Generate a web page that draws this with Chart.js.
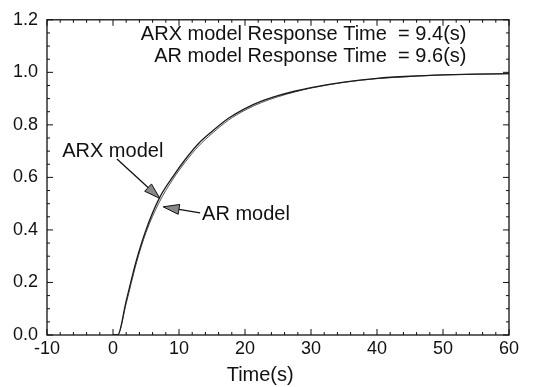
<!DOCTYPE html>
<html>
<head>
<meta charset="utf-8">
<script src="https://cdn.jsdelivr.net/npm/chart.js@4.4.0/dist/chart.umd.min.js"></script>
<style>
  html, body { margin: 0; padding: 0; background: #fff; }
  #wrap { width: 533px; height: 387px; }
</style>
</head>
<body>
<div id="wrap"><canvas id="stepChart" width="533" height="387"></canvas></div>
<script>
// step response
const timeS   = [0, 0.7, 2, 3.5, 5, 7, 9, 11, 13, 15, 17.5, 20, 22.5, 25, 27.5, 30, 35, 40, 45, 50, 55, 60];
const arxResp = [0, 0, 0.13, 0.28, 0.40, 0.52, 0.60, 0.67, 0.73, 0.775, 0.825, 0.862, 0.89, 0.911, 0.928, 0.942, 0.963, 0.977, 0.985, 0.99, 0.993, 0.995];
const arResp  = [0, 0, 0.12, 0.27, 0.39, 0.505, 0.59, 0.66, 0.72, 0.767, 0.818, 0.856, 0.885, 0.907, 0.925, 0.94, 0.962, 0.976, 0.984, 0.99, 0.993, 0.995];

const xTicks = [-10, 0, 10, 20, 30, 40, 50, 60];
const yTicks = [0, 0.2, 0.4, 0.6, 0.8, 1.0, 1.2];

// header text
const headLabels = ['ARX model Response Time', 'AR model Response Time'];
const headValues = ['= 9.4(s)', '= 9.6(s)'];
const headY = [1.143, 1.062];

// arrow labels (data units)
const noteText = ['ARX model', 'AR model'];
const noteX = [-7.7, 13.5];
const noteY = [0.70, 0.46];
const arrowFromX = [0.6, 13.2];
const arrowFromY = [0.67, 0.465];
const arrowToX = [7.1, 7.6];
const arrowToY = [0.52, 0.488];

const FONT = '"Liberation Sans", Arial, Helvetica, sans-serif';

function pts(xs, ys) {
    return xs.map(function(x, i) { return {x: x, y: ys[i]}; });
}

const frame = {
    id: 'frame',
    afterDatasetsDraw: function(chart) {
        const ctx = chart.ctx;
        const a = chart.chartArea;
        const sx = chart.scales.x, sy = chart.scales.y;
        ctx.save();
        ctx.strokeStyle = '#111';
        ctx.lineWidth = 1.3;
        ctx.strokeRect(a.left, a.top, a.right - a.left, a.bottom - a.top);

        // inward ticks on all four sides
        ctx.lineWidth = 1;
        ctx.beginPath();
        for (let v = -10; v <= 60.001; v += 2) {
            const px = sx.getPixelForValue(v);
            const len = Math.abs(v % 10) < 0.001 ? 6 : 3;
            ctx.moveTo(px, a.bottom); ctx.lineTo(px, a.bottom - len);
            ctx.moveTo(px, a.top); ctx.lineTo(px, a.top + len);
        }
        for (let k = 0; k <= 24; k++) {
            const py = sy.getPixelForValue(k * 0.05);
            const len = k % 4 === 0 ? 6 : 3;
            ctx.moveTo(a.left, py); ctx.lineTo(a.left + len, py);
            ctx.moveTo(a.right, py); ctx.lineTo(a.right - len, py);
        }
        ctx.stroke();

        ctx.fillStyle = '#111';
        ctx.font = '20px ' + FONT;
        ctx.textBaseline = 'middle';

        // header lines
        for (let i = 0; i < headLabels.length; i++) {
            const py = sy.getPixelForValue(headY[i]);
            ctx.textAlign = 'right';
            ctx.fillText(headLabels[i], sx.getPixelForValue(41.5), py);
            ctx.textAlign = 'left';
            ctx.fillText(headValues[i], sx.getPixelForValue(43.2), py);
        }

        // notes with arrows
        for (let i = 0; i < noteText.length; i++) {
            ctx.textAlign = 'left';
            ctx.fillText(noteText[i], sx.getPixelForValue(noteX[i]), sy.getPixelForValue(noteY[i]));
            const x0 = sx.getPixelForValue(arrowFromX[i]), y0 = sy.getPixelForValue(arrowFromY[i]);
            const x1 = sx.getPixelForValue(arrowToX[i]), y1 = sy.getPixelForValue(arrowToY[i]);
            const ang = Math.atan2(y1 - y0, x1 - x0);
            const hl = 16, hw = 5;
            const bx = x1 - hl * Math.cos(ang), by = y1 - hl * Math.sin(ang);
            ctx.beginPath();
            ctx.moveTo(x0, y0); ctx.lineTo(bx, by);
            ctx.lineWidth = 1.3;
            ctx.stroke();
            ctx.beginPath();
            ctx.moveTo(x1, y1);
            ctx.lineTo(bx + hw * Math.sin(ang), by - hw * Math.cos(ang));
            ctx.lineTo(bx - hw * Math.sin(ang), by + hw * Math.cos(ang));
            ctx.closePath();
            ctx.fillStyle = '#888';
            ctx.fill();
            ctx.lineWidth = 1;
            ctx.stroke();
            ctx.fillStyle = '#111';
        }

        // axis title
        ctx.textAlign = 'center';
        ctx.fillText('Time(s)', sx.getPixelForValue(22.3), a.bottom + 40);
        ctx.restore();
    }
};

new Chart(document.getElementById('stepChart').getContext('2d'), {
    type: 'line',
    data: {
        datasets: [{
            label: 'ARX model',
            data: pts(timeS, arxResp),
            borderColor: '#1a1a1a',
            borderWidth: 1.3,
            pointRadius: 0,
            fill: false,
            cubicInterpolationMode: 'monotone'
        }, {
            label: 'AR model',
            data: pts(timeS, arResp),
            borderColor: '#555',
            borderWidth: 1,
            pointRadius: 0,
            fill: false,
            cubicInterpolationMode: 'monotone'
        }]
    },
    options: {
        responsive: false,
        animation: false,
        layout: { padding: { top: 17, right: 24, left: 0, bottom: 0 } },
        plugins: { legend: { display: false }, tooltip: { enabled: false } },
        scales: {
            x: {
                type: 'linear',
                min: -10,
                max: 60,
                afterBuildTicks: function(s) { s.ticks = xTicks.map(function(v) { return {value: v}; }); },
                afterFit: function(s) { s.height = 52; },
                grid: { display: false, drawTicks: false },
                border: { display: false },
                ticks: { color: '#111', padding: 3, maxRotation: 0, font: { family: FONT, size: 18 } }
            },
            y: {
                min: 0,
                max: 1.2,
                afterBuildTicks: function(s) { s.ticks = yTicks.map(function(v) { return {value: v}; }); },
                afterFit: function(s) { s.width = 47; },
                grid: { display: false, drawTicks: false },
                border: { display: false },
                ticks: {
                    color: '#111', padding: 9, font: { family: FONT, size: 18 },
                    callback: function(v) { return v.toFixed(1); }
                }
            }
        }
    },
    plugins: [frame]
});
</script>
</body>
</html>
